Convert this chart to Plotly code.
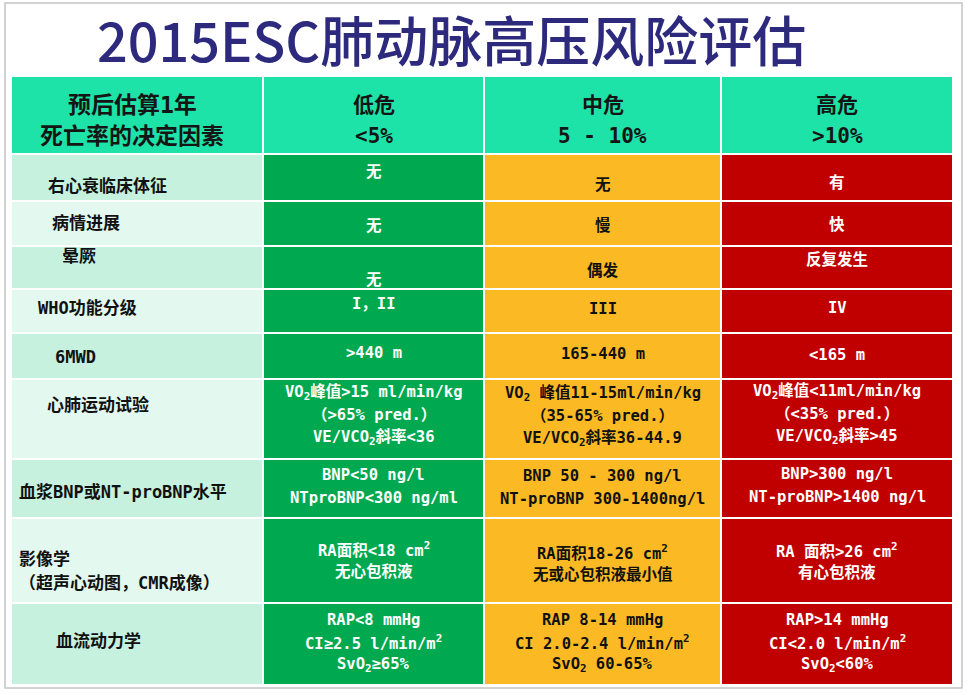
import re
import numpy as np
import plotly.graph_objects as go

# ---------------- data ----------------
title_text = "2015ESC肺动脉高压风险评估"
determinant_header = ["预后估算1年", "死亡率的决定因素"]
risk_levels = ["低危", "中危", "高危"]
mortality = ["<5%", "5 - 10%", ">10%"]

determinants = [
    "右心衰临床体征",
    "病情进展",
    "晕厥",
    "WHO功能分级",
    "6MWD",
    "心肺运动试验",
    "血浆BNP或NT-proBNP水平",
    "影像学<br>（超声心动图，CMR成像）",
    "血流动力学",
]
low_risk = [
    "无", "无", "无", "I，II", ">440 m",
    "VO<sub>2</sub>峰值>15 ml/min/kg<br>（>65% pred.）<br>VE/VCO<sub>2</sub>斜率<36",
    "BNP<50 ng/l<br>NTproBNP<300 ng/ml",
    "RA面积<18 cm<sup>2</sup><br>无心包积液",
    "RAP<8 mmHg<br>CI≥2.5 l/min/m<sup>2</sup><br>SvO<sub>2</sub>≥65%",
]
mid_risk = [
    "无", "慢", "偶发", "III", "165-440 m",
    "VO<sub>2</sub> 峰值11-15ml/min/kg<br>（35-65% pred.）<br>VE/VCO<sub>2</sub>斜率36-44.9",
    "BNP 50 - 300 ng/l<br>NT-proBNP 300-1400ng/l",
    "RA面积18-26 cm<sup>2</sup><br>无或心包积液最小值",
    "RAP 8-14 mmHg<br>CI 2.0-2.4 l/min/m<sup>2</sup><br>SvO<sub>2</sub> 60-65%",
]
high_risk = [
    "有", "快", "反复发生", "IV", "<165 m",
    "VO<sub>2</sub>峰值<11ml/min/kg<br>（<35% pred.）<br>VE/VCO<sub>2</sub>斜率>45",
    "BNP>300 ng/l<br>NT-proBNP>1400 ng/l",
    "RA 面积>26 cm<sup>2</sup><br>有心包积液",
    "RAP>14 mmHg<br>CI<2.0 l/min/m<sup>2</sup><br>SvO<sub>2</sub><60%",
]

# ---------------- layout / style ----------------
W, H = 970, 695
table_left, table_top = 11, 76
col_widths = [252, 221, 237, 232]
row_heights = [78, 47, 45, 43, 44, 46, 80, 59, 85, 82]
x_edges = table_left + np.concatenate([[0], np.cumsum(col_widths)])
y_edges = table_top + np.concatenate([[0], np.cumsum(row_heights)])

HEADER = "#1EE3A9"
MINT_DARK = "#C6F1DE"
MINT_LIGHT = "#E3F8EF"
GREEN = "#00A94F"
YELLOW = "#FBBA24"
RED = "#C00000"
palette = [HEADER, MINT_DARK, MINT_LIGHT, GREEN, YELLOW, RED]

n_body = len(determinants)
z = [[0, 0, 0, 0]]
for i in range(n_body):
    z.append([1 if i % 2 == 0 else 2, 3, 4, 5])
n = len(palette)
colorscale = []
for k, c in enumerate(palette):
    colorscale.append([k / n, c])
    colorscale.append([(k + 1) / n, c])

FONT = "DejaVu Sans Mono, Noto Sans CJK SC, sans-serif"
TITLE_FONT = "Noto Sans CJK SC, Noto Sans, sans-serif"
left_indent = [35, 39, 49, 25, 42, 34, 6, 6, 43]
# vertical nudges (px, positive = down) for [left, low, mid, high]
dy = [
    [8, -6, 7, 5],
    [-1, 2, 2, 1],
    [-12, 12, 3, -8],
    [-3, -7, -2, -3],
    [1, -3, -2, -1],
    [-14, -4, -3, -5],
    [3, -2, -1, -3],
    [10, 0, 3, 1],
    [-3, -2, -2, -2],
]
body_line = 22.5
header_line = 31


def esc(s):
    return re.sub(r"<(?!/?(sub|sup|br|b)\b)", "&lt;", s)


fig = go.Figure()
fig.add_trace(go.Heatmap(
    z=z, x=x_edges, y=y_edges, colorscale=colorscale, zmin=0, zmax=n,
    xgap=2, ygap=2, showscale=False, hoverinfo="skip",
))

annotations = []


def add_lines(lines, x, yc, color, size, xanchor="center", spacing=body_line):
    k = len(lines)
    for j, ln in enumerate(lines):
        y = yc + (j - (k - 1) / 2) * spacing
        annotations.append(dict(
            x=x, y=y, xref="x", yref="y", text="<b>" + esc(ln) + "</b>",
            showarrow=False, xanchor=xanchor, yanchor="middle",
            font=dict(family=FONT, size=size, color=color),
        ))


# header
hc = (y_edges[0] + y_edges[1]) / 2 + 5
xc = (x_edges[:-1] + x_edges[1:]) / 2
add_lines(determinant_header, xc[0] - 5, hc, "#151515", 23, spacing=header_line)
for c in range(3):
    add_lines([risk_levels[c], mortality[c]], xc[c + 1], hc, "#151515", 21, spacing=header_line)

# body
text_colors = ["#111111", "#FFFFFF", "#111111", "#FFFFFF"]
for i in range(n_body):
    yc = (y_edges[i + 1] + y_edges[i + 2]) / 2
    cells = [determinants[i], low_risk[i], mid_risk[i], high_risk[i]]
    for c, txt in enumerate(cells):
        lines = txt.split("<br>")
        if c == 0:
            add_lines(lines, x_edges[0] + left_indent[i], yc + dy[i][c], text_colors[c], 17,
                      xanchor="left", spacing=24)
        else:
            add_lines(lines, xc[c], yc + dy[i][c], text_colors[c], 15.5)

# title
annotations.append(dict(
    x=451, y=38, xref="x", yref="y", text=title_text, showarrow=False,
    xanchor="center", yanchor="middle",
    font=dict(family=TITLE_FONT, size=54, color="#2D2A7E", weight=500),
))

fig.update_layout(
    width=W, height=H, margin=dict(l=0, r=0, t=0, b=0),
    paper_bgcolor="white", plot_bgcolor="white",
    xaxis=dict(range=[0, W], visible=False, fixedrange=True),
    yaxis=dict(range=[H, 0], visible=False, fixedrange=True),
    annotations=annotations,
    shapes=[dict(type="rect", xref="x", yref="y", x0=5, y0=3, x1=962, y1=688,
                 line=dict(color="#C4C4C4", width=1.5), layer="below")],
    showlegend=False,
)
fig.write_html(
    "out.html",
    config={"displayModeBar": False},
    post_script="document.body.style.margin='0';document.body.style.overflow='hidden';",
)
